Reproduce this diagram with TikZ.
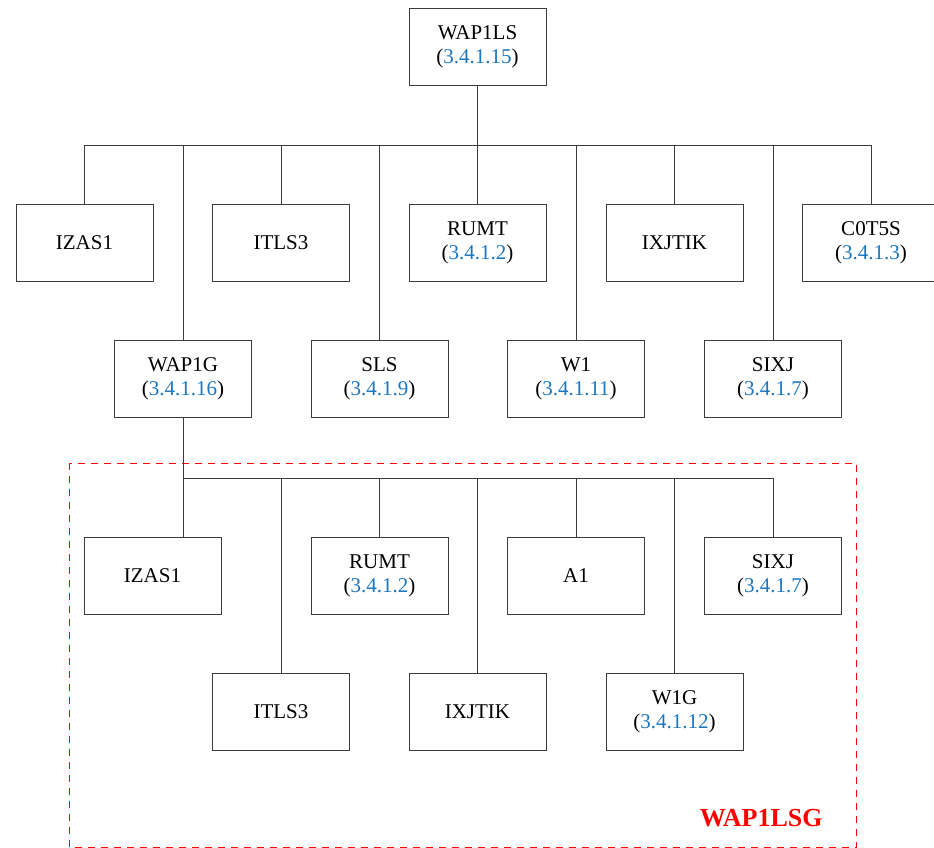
\documentclass[tikz,border=0pt]{standalone}
\usepackage{fontspec}
\setmainfont{Liberation Serif}
\usetikzlibrary{positioning}
\definecolor{refblue}{RGB}{28,118,190}
\definecolor{linegray}{RGB}{60,60,60}
\newcommand{\refn}[1]{(\textcolor{refblue}{#1})}
\begin{document}
\begin{tikzpicture}[x=0.5pt,y=-0.5pt,
  box/.style={draw=linegray,line width=0.5pt,minimum width=68.5pt,minimum height=38.5pt,
    align=center,inner sep=0pt,font=\fontsize{10.5}{12}\selectfont},
  conn/.style={draw=linegray,line width=0.5pt},
  group/.style={draw=red,line width=0.5pt,dash pattern=on 3.5pt off 3pt}]
\clip (0,0) rectangle (934,848);
% root
\node[box] (root) at (477.5,46.5) {WAP1LS\\\refn{3.4.1.15}};
% row 1
\node[box] (izas) at (84.5,243) {IZAS1};
\node[box] (itls) at (281,243) {ITLS3};
\node[box] (rumt) at (477.5,243) {RUMT\\\refn{3.4.1.2}};
\node[box] (ixjt) at (674.5,243) {IXJTIK};
\node[box] (c0t5s) at (871,243) {C0T5S\\\refn{3.4.1.3}};
% row 2
\node[box] (wap1g) at (183,379) {WAP1G\\\refn{3.4.1.16}};
\node[box] (sls) at (379.5,379) {SLS\\\refn{3.4.1.9}};
\node[box] (w1) at (576,379) {W1\\\refn{3.4.1.11}};
\node[box] (sixj) at (773,379) {SIXJ\\\refn{3.4.1.7}};
% group
\draw[group] (69,463) rectangle (856,847.3);
\node[anchor=base east,text=red,font=\fontsize{13}{15}\selectfont\bfseries,inner sep=0pt] (glabel) at (823,826) {WAP1LSG};
% row 3
\node[box] (izas2) at (152.5,576) {IZAS1};
\node[box] (rumt2) at (379.5,576) {RUMT\\\refn{3.4.1.2}};
\node[box] (a1) at (576,576) {A1};
\node[box] (sixj2) at (773,576) {SIXJ\\\refn{3.4.1.7}};
% row 4
\node[box] (itls2) at (281,712) {ITLS3};
\node[box] (ixjt2) at (477.5,712) {IXJTIK};
\node[box] (w1g) at (674.5,712) {W1G\\\refn{3.4.1.12}};
% buses
\coordinate (busA) at (477.5,145);
\coordinate (busB) at (183,478);
\draw[conn] (root.south) -- (root.south |- busA);
\draw[conn] (izas.north |- busA) -- (c0t5s.north |- busA);
\foreach \n in {izas,itls,rumt,ixjt,c0t5s,wap1g,sls,w1,sixj}
  \draw[conn] (\n.north) -- (\n.north |- busA);
\draw[conn] (wap1g.south) -- (busB);
\draw[conn] (busB) -- (sixj2.north |- busB);
\draw[conn] (busB) -- (busB |- izas2.north);
\foreach \n in {rumt2,a1,sixj2,itls2,ixjt2,w1g}
  \draw[conn] (\n.north) -- (\n.north |- busB);
\end{tikzpicture}
\end{document}
